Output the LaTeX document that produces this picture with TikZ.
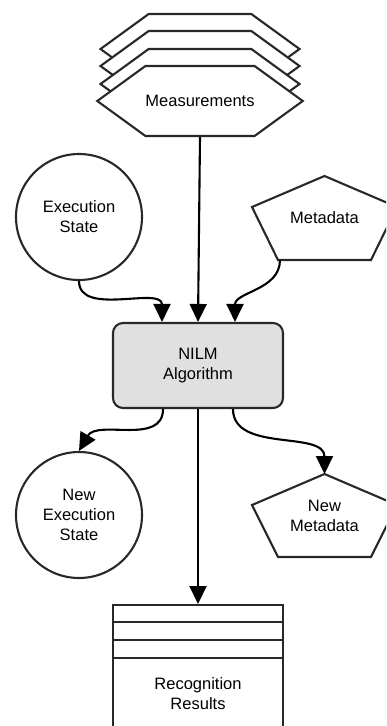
\documentclass[tikz,border=0pt]{standalone}
\usepackage{fontspec}
\setmainfont{Liberation Sans}
\definecolor{linegray}{RGB}{40, 40, 40}
\definecolor{algogray}{RGB}{224, 224, 224}
\usetikzlibrary{shapes, arrows.meta, positioning, calc}
\tikzset{
  txt/.style={font=\fontsize{16.5}{20}\selectfont, align=center, text=black},
  shapeline/.style={draw=linegray, line width=2.1pt, fill=white},
  meashex/.style={shapeline, txt, signal, signal to=east and west, signal pointer angle=72,
    minimum width=199pt, minimum height=70pt, inner sep=0pt},
  statecirc/.style={shapeline, txt, circle, minimum size=126pt, inner sep=0pt},
  algobox/.style={shapeline, txt, fill=algogray, rounded corners=10pt, minimum width=170pt, minimum height=85pt},
  resultbox/.style={shapeline, txt, anchor=north, minimum width=170pt, minimum height=178pt},
  flow/.style={draw=black, line width=2.1pt, -{Triangle[length=18pt, width=17pt]}}
}

\begin{document}
\begin{tikzpicture}[x=1pt, y=1pt]
  \clip (0, 0) rectangle (386, -726);

  % stacked measurements
  \foreach \y in {-49, -66, -84}
    \node[meashex] at (200, \y) {};
  \node[meashex] (meas) at (200, -101) {Measurements};

  \node[statecirc] (state) at (79, -217) {Execution\\State};

  \node[txt] (meta) at (324.5, -218) {Metadata};
  \draw[shapeline, fill=none] ($(meta.center)+(0, 42)$) coordinate (meta-t)
    -- ($(meta.center)+(72.5, 11)$) -- ($(meta.center)+(46.5, -42)$)
    -- ($(meta.center)+(-46.5, -42)$) coordinate (meta-bl)
    -- ($(meta.center)+(-72.5, 11)$) -- cycle;

  \node[algobox] (nilm) at (198, -365.5) {NILM\\Algorithm};

  \node[statecirc] (newstate) at (79, -515) {New\\Execution\\State};

  \node[txt] (newmeta) at (324.5, -515.5) {New\\Metadata};
  \draw[shapeline, fill=none] ($(newmeta.center)+(0, 41.5)$) coordinate (newmeta-t)
    -- ($(newmeta.center)+(72.5, 10.5)$) -- ($(newmeta.center)+(46.5, -41.5)$)
    -- ($(newmeta.center)+(-46.5, -41.5)$)
    -- ($(newmeta.center)+(-72.5, 10.5)$) -- cycle;

  \node[resultbox] (results) at (198, -604) {Recognition\\Results};
  \foreach \d in {18, 36, 54}
    \draw[shapeline] ([yshift=-\d pt]results.north west) -- ([yshift=-\d pt]results.north east);

  % connectors
  \draw[flow] (meas.south) -- (nilm.north);
  \draw[flow] (state.south) to[out=-90, in=90] ([xshift=-36pt]nilm.north);
  \draw[flow] ([xshift=2pt]meta-bl) to[out=-90, in=90] ([xshift=37pt]nilm.north);
  \draw[flow] (nilm.south) -- (results.north);
  \draw[flow] ([xshift=-35pt]nilm.south) to[out=-90, in=60] (newstate.north);
  \draw[flow] ([xshift=35pt]nilm.south) to[out=-90, in=90] (newmeta-t);
\end{tikzpicture}
\end{document}
